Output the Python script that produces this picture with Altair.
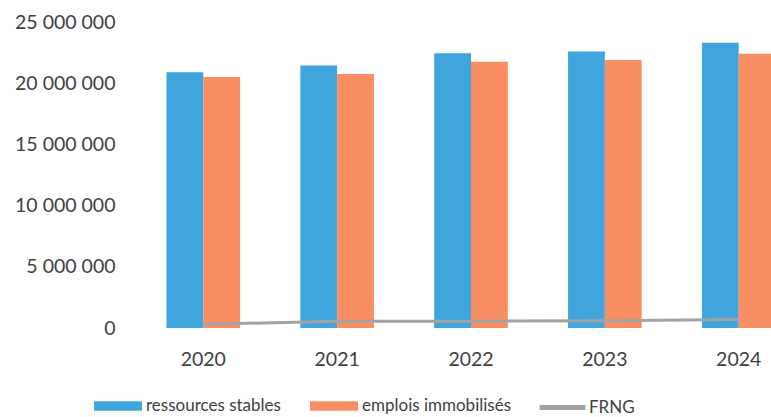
import altair as alt
import pandas as pd

years = ["2020", "2021", "2022", "2023", "2024"]
ressources = [20900000, 21450000, 22450000, 22600000, 23300000]
emplois = [20500000, 20750000, 21750000, 21900000, 22400000]
frng = [300000, 550000, 550000, 600000, 700000]
series = ["ressources stables", "emplois immobilisés"]
colors = ["#3FA5DC", "#F98E62"]
y_ticks = [0, 5000000, 10000000, 15000000, 20000000, 25000000]

bars = pd.DataFrame(
    [{"year": y, "series": series[0], "value": v} for y, v in zip(years, ressources)]
    + [{"year": y, "series": series[1], "value": v} for y, v in zip(years, emplois)]
)
line = pd.DataFrame({"year": years, "value": frng, "name": "FRNG"})

FONT = "Lato"
TXT = "#404040"
FS = 19.5
LFS = 17

xscale = alt.Scale(domain=years, range=[0, 670], paddingInner=0.45, paddingOuter=0.2275)
yscale = alt.Scale(domain=[0, 25000000])

rect_path = "M-1,-0.2L1,-0.2L1,0.2L-1,0.2Z"

bar_layer = alt.Chart(bars).mark_bar(clip=True).encode(
    x=alt.X("year:N", scale=xscale, axis=alt.Axis(title=None, labelAngle=0, domain=False, ticks=False,
                                                   labelPadding=22, labelFontSize=FS, labelFont=FONT,
                                                   labelColor=TXT)),
    xOffset=alt.XOffset("series:N", sort=series, scale=alt.Scale(domain=series, paddingInner=0, paddingOuter=0)),
    y=alt.Y("value:Q", scale=yscale,
            axis=alt.Axis(title=None, values=y_ticks, grid=False, domain=False, ticks=False,
                          labelPadding=21, labelFontSize=FS, labelFont=FONT, labelColor=TXT,
                          labelExpr="replace(format(datum.value, ',d'), /,/g, ' ')")),
    fill=alt.Fill("series:N", sort=series, scale=alt.Scale(domain=series, range=colors),
                  legend=alt.Legend(title=None, orient="none", legendX=-42, legendY=360,
                                    direction="horizontal", symbolType=rect_path, symbolSize=2300,
                                    symbolStrokeWidth=0, labelFontSize=LFS, labelFont=FONT, labelColor=TXT,
                                    columnPadding=29, labelOffset=4, padding=0, labelLimit=0)),
)

line_layer = alt.Chart(line).mark_line(strokeWidth=3, clip=True).encode(
    x=alt.X("year:N", scale=xscale),
    y=alt.Y("value:Q", scale=yscale),
    stroke=alt.Stroke("name:N", scale=alt.Scale(domain=["FRNG"], range=["#A3A3A3"]),
                      legend=alt.Legend(title=None, orient="none", legendX=401, legendY=360,
                                        symbolType="stroke", symbolSize=2100, symbolStrokeWidth=5,
                                        labelFontSize=LFS, labelFont=FONT, labelColor=TXT,
                                        labelOffset=1, padding=0, labelLimit=0)),
)

chart = alt.layer(bar_layer, line_layer).properties(
    width=635, height=306,
    autosize=alt.AutoSizeParams(type="none"),
    padding={"left": 136, "top": 22, "right": 0, "bottom": 89},
    background="white",
).configure_view(stroke=None)

chart.save("out.html", embed_options={"renderer": "svg", "actions": False})
